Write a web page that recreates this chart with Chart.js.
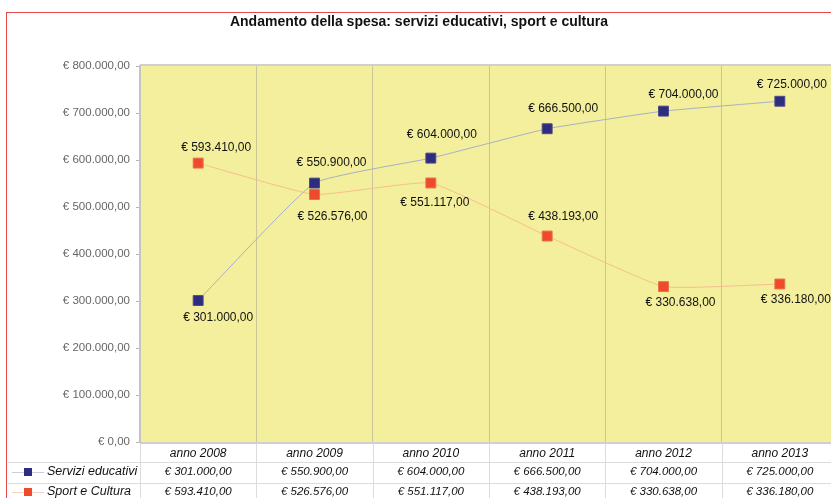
<!DOCTYPE html>
<html>
<head>
<meta charset="utf-8">
<script src="https://cdn.jsdelivr.net/npm/chart.js@4"></script>
<style>
  html, body { margin: 0; padding: 0; background: #fff; overflow: hidden; }
  #wrap { position: relative; width: 850px; height: 498px; }
  #frame { position: absolute; left: 6px; top: 12px; width: 900px; height: 600px; border: 1px solid #e5484b; }
  canvas { position: absolute; left: 0; top: 0; }
</style>
</head>
<body>
<div id="wrap">
  <div id="frame"></div>
  <canvas id="spesaChart" width="850" height="498"></canvas>
</div>
<script>
/* Andamento della spesa */
const anni = ["anno 2008", "anno 2009", "anno 2010", "anno 2011", "anno 2012", "anno 2013"];
const serviziEducativi = [301000, 550900, 604000, 666500, 704000, 725000];
const sportCultura = [593410, 526576, 551117, 438193, 330638, 336180];
const yTicks = [0, 100000, 200000, 300000, 400000, 500000, 600000, 700000, 800000];

// where each value label sits relative to its marker (px)
const serviziLabelDx = [20, 17, 11, 16, 20, 12];
const serviziLabelDy = [17, -20, -23, -20, -16, -17];
const sportLabelDx = [18, 18, 4, 16, 17, 16];
const sportLabelDy = [-15, 22, 20, -19, 16, 16];

const FONT = "'Liberation Sans', Arial, sans-serif";

function euro(v) {
  const parts = v.toFixed(2).split(".");
  const int = parts[0].replace(/\B(?=(\d{3})+(?!\d))/g, ".");
  return "€ " + int + "," + parts[1];
}

const sheetPlugin = {
  id: "sheet",
  beforeDraw(chart) {
    const { ctx, chartArea: a } = chart;
    ctx.save();
    ctx.fillStyle = "#f4ef9c";
    ctx.fillRect(a.left, a.top, a.right - a.left, a.bottom - a.top);
    ctx.fillStyle = "#cfcfcf";
    ctx.fillRect(a.left, a.top - 2, a.right - a.left, 2);
    ctx.fillRect(a.left, a.bottom, a.right - a.left, 2);
    // title
    ctx.fillStyle = "#111";
    ctx.font = "bold 14px " + FONT;
    ctx.textAlign = "center";
    ctx.textBaseline = "middle";
    ctx.fillText("Andamento della spesa: servizi educativi, sport e cultura", 419, 22);
    ctx.restore();
  },
  afterDraw(chart) {
    const { ctx, chartArea: a } = chart;
    const x = chart.scales.x;
    ctx.save();
    // table grid
    ctx.strokeStyle = "#dcdcdc";
    ctx.lineWidth = 1;
    ctx.beginPath();
    ctx.moveTo(8, 462.5); ctx.lineTo(850, 462.5);
    ctx.moveTo(8, 483.5); ctx.lineTo(850, 483.5);
    for (let i = 0; i <= anni.length; i++) {
      const px = Math.round(a.left + i * (a.right - a.left) / anni.length) + 0.5;
      ctx.moveTo(px, a.bottom + 2); ctx.lineTo(px, 498);
    }
    ctx.stroke();

    const rows = [
      { name: "Servizi educativi", data: serviziEducativi, color: "#2e2c80", line: "#c9cde0", y: 472 },
      { name: "Sport e Cultura", data: sportCultura, color: "#ef4a2b", line: "#f8d2c0", y: 492 }
    ];
    ctx.textBaseline = "middle";
    rows.forEach(r => {
      ctx.strokeStyle = r.line;
      ctx.beginPath(); ctx.moveTo(12, r.y + 0.5); ctx.lineTo(44, r.y + 0.5); ctx.stroke();
      ctx.fillStyle = r.color;
      ctx.fillRect(24, r.y - 4, 8, 8);
      ctx.fillStyle = "#111";
      ctx.font = "italic 12.5px " + FONT;
      ctx.textAlign = "left";
      ctx.fillText(r.name, 47, r.y);
      ctx.font = "italic 11.5px " + FONT;
      ctx.textAlign = "center";
      r.data.forEach((v, i) => ctx.fillText(euro(v), x.getPixelForValue(i), r.y));
    });
    ctx.restore();
  },
  afterDatasetsDraw(chart) {
    const { ctx } = chart;
    const dx = [serviziLabelDx, sportLabelDx];
    const dy = [serviziLabelDy, sportLabelDy];
    ctx.save();
    ctx.font = "12px " + FONT;
    ctx.fillStyle = "#111";
    ctx.textAlign = "center";
    ctx.textBaseline = "middle";
    chart.data.datasets.forEach((ds, d) => {
      chart.getDatasetMeta(d).data.forEach((pt, i) => {
        ctx.fillText(euro(ds.data[i]), pt.x + dx[d][i], pt.y + dy[d][i]);
      });
    });
    ctx.restore();
  }
};

new Chart(document.getElementById("spesaChart"), {
  type: "line",
  data: {
    labels: anni,
    datasets: [{
      label: "Servizi educativi",
      data: serviziEducativi,
      borderColor: "#a9b0c4",
      borderWidth: 1,
      pointStyle: "rect",
      pointRadius: 7,
      pointBackgroundColor: "#2e2c80",
      pointBorderColor: "#4a4a8a",
      pointBorderWidth: 1,
      tension: 0.12
    }, {
      label: "Sport e Cultura",
      data: sportCultura,
      borderColor: "#f6c08e",
      borderWidth: 1,
      pointStyle: "rect",
      pointRadius: 7,
      pointBackgroundColor: "#ef4a2b",
      pointBorderColor: "#e8704e",
      pointBorderWidth: 1,
      tension: 0.12
    }]
  },
  options: {
    responsive: false,
    animation: false,
    layout: { padding: { left: 0, top: 66, right: 12, bottom: 35 } },
    plugins: {
      legend: { display: false },
      tooltip: { enabled: false }
    },
    scales: {
      x: {
        offset: true,
        grid: { offset: true, color: "#c9c69a", drawTicks: false },
        border: { display: false },
        ticks: {
          padding: 4,
          color: "#111",
          font: { family: FONT, size: 12, style: "italic" }
        },
        afterFit(axis) { axis.height = 21; }
      },
      y: {
        min: 0,
        max: 800000,
        afterBuildTicks(axis) { axis.ticks = yTicks.map(v => ({ value: v })); },
        grid: { drawOnChartArea: false, drawTicks: true, tickLength: 4, color: "#b5b5b5" },
        border: { display: true, color: "#c4c4c4", width: 2 },
        ticks: {
          padding: 6,
          color: "#666",
          font: { family: FONT, size: 11.5 },
          callback: v => euro(v)
        },
        afterFit(axis) { axis.width = 140; }
      }
    }
  },
  plugins: [sheetPlugin]
});
</script>
</body>
</html>
